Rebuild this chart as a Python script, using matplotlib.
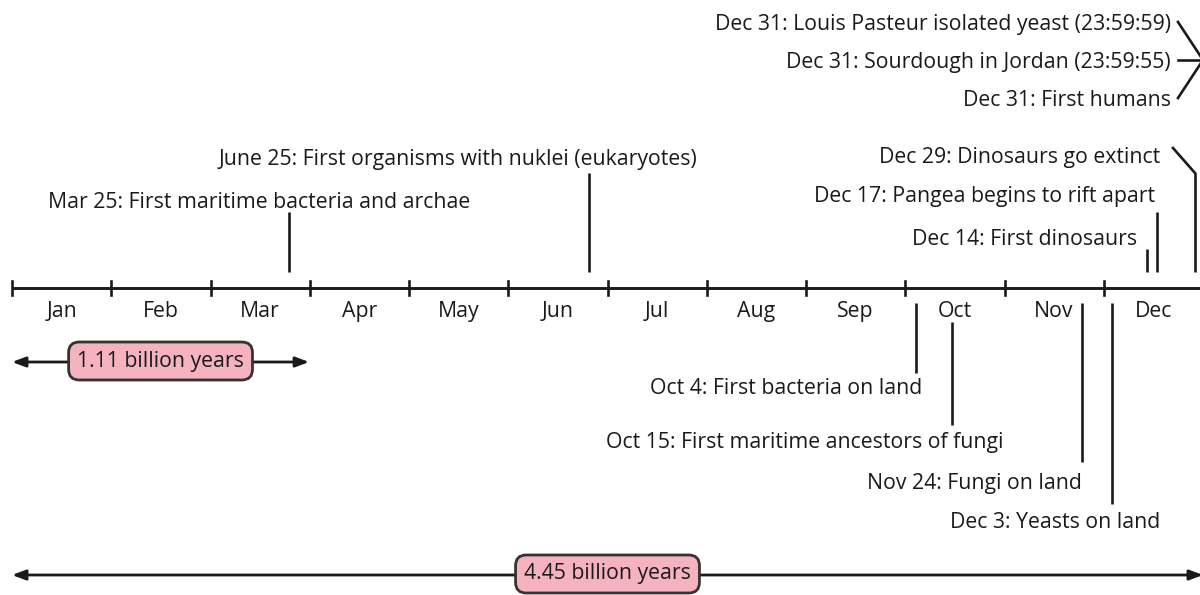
import matplotlib.pyplot as plt

plt.rcParams['font.family'] = ['Open Sans', 'DejaVu Sans']

# ---- data ----
months = ['Jan', 'Feb', 'Mar', 'Apr', 'May', 'Jun',
          'Jul', 'Aug', 'Sep', 'Oct', 'Nov', 'Dec']
days_in_month = [31, 28, 31, 30, 31, 30, 31, 31, 30, 31, 30, 31]

above_labels = ['Mar 25: First maritime bacteria and archae',
                'June 25: First organisms with nuklei (eukaryotes)',
                'Dec 14: First dinosaurs',
                'Dec 17: Pangea begins to rift apart',
                'Dec 29: Dinosaurs go extinct']
above_month = [3, 6, 12, 12, 12]
above_day = [25, 25, 14, 17, 29]

below_labels = ['Oct 4: First bacteria on land',
                'Oct 15: First maritime ancestors of fungi',
                'Nov 24: Fungi on land',
                'Dec 3: Yeasts on land']
below_month = [10, 10, 11, 12]
below_day = [4, 15, 24, 3]

dec31_labels = ['Dec 31: Louis Pasteur isolated yeast (23:59:59)',
                'Dec 31: Sourdough in Jordan (23:59:55)',
                'Dec 31: First humans']

total_span = 4.45   # billion years
first_span = 1.11   # billion years

# ---- layout (pixels) ----
X0, PPM = 12, 99.25          # axis origin, pixels per month
AXIS_Y = 288
INK = '#1a1a1a'
PINK = '#f5b3c0'
FS = 15.3
DY = 2.5                     # nudge text down so glyphs sit like the original


def px(x):
    return (x - X0) / PPM


def pos(m, d):
    return (m - 1) + (d - 0.5) / days_in_month[m - 1]


above_text = [(259, 200, 'center'), (458, 157, 'center'),
              (1137, 237, 'right'), (1155, 194, 'right'), (1160, 155, 'right')]
above_top = [212, 173, 249, 212, 173]
below_text = [(922, 386), (1003, 440), (1082, 481), (1160, 520)]
below_top = [303, 322, 303, 303]
below_bottom = [373, 425, 462, 504]
dec31_y = [22, 60, 98]

fig = plt.figure(figsize=(12, 5.95), dpi=100)
ax = fig.add_axes([0, 0, 1, 1])
ax.set_xlim(px(0), px(1200))
ax.set_ylim(595, 0)
ax.axis('off')

lw = 1.9
# timeline
ax.plot([0, 12], [AXIS_Y, AXIS_Y], color=INK, lw=2.1, solid_capstyle='butt')
for i, m in enumerate(months):
    ax.plot([i, i], [AXIS_Y - 7, AXIS_Y + 7], color=INK, lw=lw)
    ax.text(i + 0.5, 309 + DY, m, ha='center', va='center', fontsize=FS, color=INK)

# events above
for lab, m, d, (tx, ty, ha), top in zip(above_labels, above_month, above_day,
                                         above_text, above_top):
    x = pos(m, d)
    ax.plot([x, x], [top, 272], color=INK, lw=lw, solid_capstyle='butt')
    ax.text(px(tx), ty + DY, lab, ha=ha, va='center', fontsize=FS, color=INK)
# bent connector for Dec 29
x29 = pos(above_month[-1], above_day[-1])
ax.plot([px(1173), x29], [148, above_top[-1]], color=INK, lw=lw)

# events below
for lab, m, d, (tx, ty), top, bot in zip(below_labels, below_month, below_day,
                                          below_text, below_top, below_bottom):
    x = pos(m, d)
    ax.plot([x, x], [top, bot], color=INK, lw=lw, solid_capstyle='butt')
    ax.text(px(tx), ty + DY, lab, ha='right', va='center', fontsize=FS, color=INK)

# Dec 31 events, converging at year end
for lab, y in zip(dec31_labels, dec31_y):
    ax.text(px(1171), y + DY, lab, ha='right', va='center', fontsize=FS, color=INK)
    ax.plot([px(1178), 12], [y, dec31_y[1]], color=INK, lw=lw)

# spans
box = dict(boxstyle='round,pad=0.4,rounding_size=0.5', fc=PINK, ec='#333333', lw=2)
arrow = dict(arrowstyle='<|-|>,head_length=0.8,head_width=0.3', color=INK, lw=2,
             shrinkA=0, shrinkB=0)
x1 = 12 * first_span / total_span
ax.annotate('', xy=(0, 362), xytext=(x1, 362), arrowprops=arrow)
ax.text(x1 / 2, 361, f'{first_span} billion years', ha='center', va='center',
        fontsize=FS, color=INK, bbox=box)
ax.annotate('', xy=(0, 575), xytext=(12, 575), arrowprops=arrow)
ax.text(6, 574, f'{total_span} billion years', ha='center', va='center',
        fontsize=FS, color=INK, bbox=box)

fig.savefig('out.png', dpi=100)
